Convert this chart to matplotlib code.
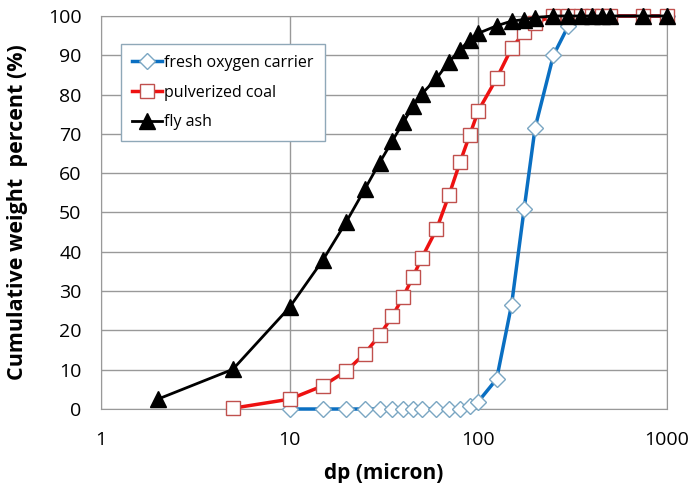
import matplotlib.pyplot as plt
import numpy as np

plt.rcParams['font.family'] = ['Open Sans', 'DejaVu Sans']

# particle size (micron)
dp_ox = [10, 15, 20, 25, 30, 35, 40, 45, 50, 60, 70, 80, 90, 100, 125, 150, 175,
         200, 250, 300, 350, 400, 450, 500, 750, 1000]
cum_ox = [0, 0, 0, 0, 0, 0, 0, 0, 0, 0, 0, 0, 0.8, 1.9, 7.6, 26.5, 51, 71.6, 90,
          97.5, 100, 100, 100, 100, 100, 100]

dp_coal = [5, 10, 15, 20, 25, 30, 35, 40, 45, 50, 60, 70, 80, 90, 100, 125, 150,
           175, 200, 250, 300, 350, 400, 450, 500, 750, 1000]
cum_coal = [0.2, 2.5, 5.9, 9.7, 14.1, 18.8, 23.6, 28.6, 33.6, 38.3, 45.7, 54.5,
            62.8, 69.7, 75.9, 84.1, 91.8, 95.8, 98.3, 100, 100, 100, 100, 100,
            100, 100, 100]

dp_ash = [2, 5, 10, 15, 20, 25, 30, 35, 40, 45, 50, 60, 70, 80, 90, 100, 125, 150,
          175, 200, 250, 300, 350, 400, 450, 500, 750, 1000]
cum_ash = [2.5, 10.1, 25.9, 37.9, 47.7, 55.9, 62.7, 68.2, 72.9, 77.1, 80.1, 84.1,
           88.4, 91.3, 94, 95.6, 97.5, 98.7, 99.1, 99.6, 100, 100, 100, 100, 100,
           100, 100, 100]

fig = plt.figure(figsize=(6.93, 4.83), dpi=100)
ax = fig.add_axes([0.1457, 0.1532, 0.8168, 0.8137])

ax.plot(dp_ox, cum_ox, color='#0a6fc2', lw=2.5, marker='D', ms=8.5,
        mfc='white', mec='#7aa6c2', mew=1.0, label='fresh oxygen carrier',
        zorder=3, clip_on=False)
ax.plot(dp_coal, cum_coal, color='#ee1111', lw=2.5, marker='s', ms=10.5,
        mfc='white', mec='#c0504d', mew=1.0, label='pulverized coal',
        zorder=4, clip_on=False)
ax.plot(dp_ash, cum_ash, color='black', lw=2, marker='^', ms=11,
        mfc='black', mec='black', label='fly ash', zorder=5, clip_on=False)

ax.set_xscale('log')
ax.set_xlim(1, 1000)
ax.set_ylim(0, 100)
ax.set_xticks([1, 10, 100, 1000])
ax.set_xticklabels(['1', '10', '100', '1000'])
ax.set_yticks(np.arange(0, 101, 10))
ax.minorticks_off()
ax.tick_params(length=0, labelsize=14)
ax.tick_params(axis='y', pad=14)
ax.tick_params(axis='x', pad=16)
ax.grid(True, color='#999999', lw=1)
ax.set_axisbelow(True)
for s in ax.spines.values():
    s.set_color('#999999')

ax.set_xlabel('dp (micron)', fontsize=15, fontweight='bold', labelpad=10)
ax.set_ylabel('Cumulative weight  percent (%)', fontsize=15.5, fontweight='bold', labelpad=14)

leg = ax.legend(loc='upper left', bbox_to_anchor=(0.035, 0.929), fontsize=11.5,
                fancybox=False, framealpha=1, edgecolor='#8fa8b8', borderaxespad=0,
                handlelength=1.9, handletextpad=0.1, borderpad=0.7, labelspacing=0.85)
leg.get_frame().set_linewidth(1)

plt.savefig('out.png', dpi=100)
